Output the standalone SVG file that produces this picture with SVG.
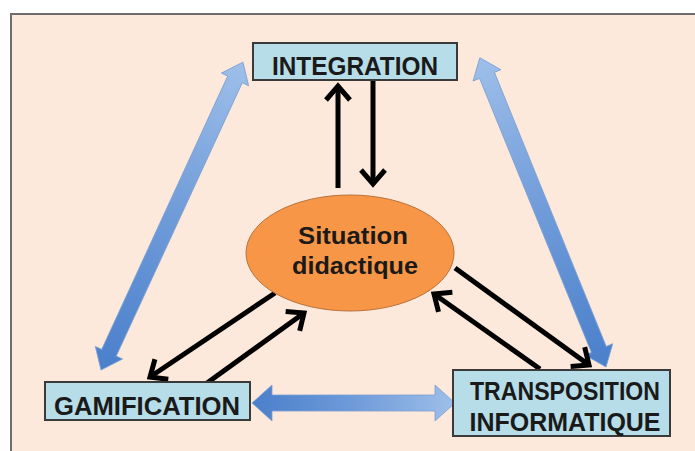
<svg xmlns="http://www.w3.org/2000/svg" width="695" height="451" viewBox="0 0 695 451">
<style>
.box{fill:#b7dde8;stroke:#3a3a3a;stroke-width:2}
.lbl{font-family:"Liberation Sans",Arial,sans-serif;font-weight:bold;fill:#1a1a1a;text-anchor:middle}
.blk{stroke:#000;stroke-width:5;fill:none;marker-end:url(#chev)}
.blue{stroke:#7a9fd3;stroke-width:0.8}
</style>
<defs>
<marker id="chev" markerUnits="userSpaceOnUse" markerWidth="34" markerHeight="34" viewBox="-22 -17 34 34" refX="0" refY="0" orient="auto">
<path d="M-14,-12 L0,0 L-14,12" fill="none" stroke="#000" stroke-width="5" stroke-linejoin="miter"/>
</marker>
<linearGradient id="bg" x1="0" y1="0" x2="1" y2="0">
<stop offset="0" stop-color="#4a7fcb"/>
<stop offset="0.5" stop-color="#6f9bd9"/>
<stop offset="1" stop-color="#9ebfe9"/>
</linearGradient>
</defs>
<rect x="0" y="0" width="695" height="451" fill="#ffffff"/>
<rect x="11" y="14" width="690" height="445" fill="#fde9db" stroke="#6e6e6e" stroke-width="2"/>
<g id="connectors">
<g transform="translate(101,370) rotate(-65.25)">
<polygon class="blue" fill="url(#bg)" points="0,0 19,-15 19,-8 320,-8 320,-15 339,0 320,15 320,8 19,8 19,15"/>
</g>
<g transform="translate(606,367) rotate(-112.2)">
<polygon class="blue" fill="url(#bg)" points="0,0 19,-15 19,-8 315,-8 315,-15 334,0 315,15 315,8 19,8 19,15"/>
</g>
<g transform="translate(252,403)">
<polygon class="blue" fill="url(#bg)" points="0,0 20,-18 20,-8 183,-8 183,-18 203,0 183,18 183,8 20,8 20,18"/>
</g>
<line class="blk" x1="338" y1="188" x2="338" y2="86"/>
<line class="blk" x1="373" y1="80" x2="373" y2="184"/>
<line class="blk" x1="275" y1="293" x2="150" y2="377"/>
<line class="blk" x1="207" y1="383" x2="304" y2="313"/>
<line class="blk" x1="455" y1="268" x2="589" y2="365"/>
<line class="blk" x1="540" y1="369" x2="434" y2="294"/>
</g>
<g id="integration">
<rect class="box" x="253" y="43" width="204" height="37"/>
<text class="lbl" x="355" y="75" font-size="25" textLength="166" lengthAdjust="spacingAndGlyphs">INTEGRATION</text>
</g>
<g id="gamification">
<rect class="box" x="45" y="382" width="205" height="38"/>
<text class="lbl" x="147" y="415" font-size="25" textLength="186" lengthAdjust="spacingAndGlyphs">GAMIFICATION</text>
</g>
<g id="transposition">
<rect class="box" x="453" y="370" width="217" height="66"/>
<text class="lbl" x="565" y="400" font-size="25" textLength="190" lengthAdjust="spacingAndGlyphs">TRANSPOSITION</text>
<text class="lbl" x="565" y="431" font-size="25" textLength="191" lengthAdjust="spacingAndGlyphs">INFORMATIQUE</text>
</g>
<g id="situation">
<ellipse cx="350" cy="253" rx="104" ry="58" fill="#f79646" stroke="#b8723c" stroke-width="1"/>
<text class="lbl" x="353" y="244" font-size="24" textLength="110" lengthAdjust="spacingAndGlyphs">Situation</text>
<text class="lbl" x="355" y="274" font-size="24" textLength="126" lengthAdjust="spacingAndGlyphs">didactique</text>
</g>
</svg>
